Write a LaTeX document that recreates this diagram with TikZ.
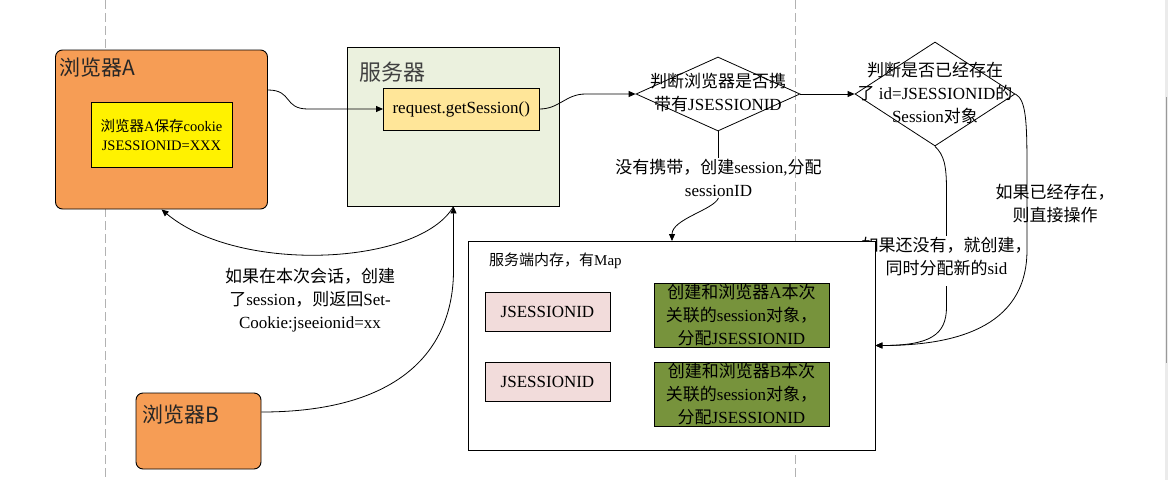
\documentclass[tikz,border=0pt]{standalone}
\usepackage{fontspec}
\setmainfont{Liberation Serif}
\newfontfamily\zhfont{Noto Sans CJK SC}
\newcommand{\zh}[1]{{\zhfont #1}}
\usepackage{tikz}
\usetikzlibrary{arrows.meta,shapes.geometric}
\definecolor{browserfill}{HTML}{F69D55}
\definecolor{serverfill}{HTML}{EBF1DE}
\definecolor{callfill}{HTML}{FFE699}
\definecolor{keyfill}{HTML}{F2DCDB}
\definecolor{objfill}{HTML}{77933C}
\definecolor{titlegray}{HTML}{404040}
\tikzset{%
  every box/.style={
    draw,
    line width=0.9pt,
    inner sep=0pt,
    align=center,
    font=\fontsize{17pt}{23pt}\selectfont
  },
  browser/.style={every box, fill=browserfill, rounded corners=7pt},
  cookie/.style={every box, fill=yellow, font=\fontsize{14.5pt}{19pt}\selectfont},
  server/.style={every box, fill=serverfill},
  call/.style={every box, fill=callfill},
  memory/.style={every box, fill=white},
  sessionkey/.style={every box, fill=keyfill},
  sessionobj/.style={every box, fill=objfill},
  decision/.style={diamond, draw, line width=0.8pt, inner sep=0pt},
  title/.style={inner sep=0pt, text=black!85, font=\zhfont\fontsize{21pt}{25pt}\selectfont},
  note/.style={inner sep=1pt, align=center, font=\fontsize{17pt}{23pt}\selectfont},
  guide/.style={draw=black!30, line width=0.8pt, dash pattern=on 9pt off 4pt},
  conn/.style={line width=0.8pt},
  arr/.style={conn, -{Triangle[length=7pt,width=6pt]}},
}
\begin{document}
\begin{tikzpicture}[x=1pt,y=-1pt]
  \useasboundingbox (0,0) rectangle (1168,480);
  \fill[white] (0,0) rectangle (1168,480);
  \draw[guide] (105,0) -- (105,480);
  \draw[guide] (795,0) -- (795,480);
  \fill[black!8] (1165,0) rectangle (1168,480);
  \draw[black!40, line width=0.8pt] (1166.5,97) -- (1166.5,363);

  \node[browser, minimum width=212pt, minimum height=159pt] (brA) at (161.5,129.5) {};
  \node[title, anchor=west] (brAtitle) at (59,68) {浏览器A};
  \node[cookie, minimum width=141pt, minimum height=65pt] (cookie) at (161.5,134.5)
    {\zh{浏览器}A\zh{保存}cookie\\JSESSIONID=XXX};

  \node[server, minimum width=212pt, minimum height=159pt] (srv) at (453.5,126.5) {};
  \node[title, text=titlegray, font=\zhfont\fontsize{22pt}{26pt}\selectfont, anchor=west] (srvtitle) at (359,72) {服务器};
  \node[call, minimum width=155.5pt, minimum height=42pt] (sess) at (461.25,109) {request.getSession()};

  \node[decision, minimum width=164pt, minimum height=74pt] (d1) at (718,94) {};
  \node[note] (d1text) at (718,92.5) {\zh{判断浏览器是否携}\\\zh{带有}JSESSIONID};
  \node[decision, minimum width=160pt, minimum height=104pt] (d2) at (935,94) {};
  \node[note] (d2text) at (935,93) {\zh{判断是否已经存在}\\\zh{了} id=JSESSIONID\zh{的}\\Session\zh{对象}};

  \node[note] (nocarry) at (718.5,178) {\zh{没有携带，创建}session,\zh{分配}\\sessionID};
  \node[note] (exists) at (1055,203.5) {\zh{如果已经存在，}\\\zh{则直接操作}};
  \node[note] (create) at (946.5,256.5) {\zh{如果还没有，就创建，}\\\zh{同时分配新的}sid};

  \node[memory, minimum width=407pt, minimum height=209pt] (mem) at (671.5,345.5) {};
  \node[note, inner sep=0pt, font=\fontsize{15pt}{20pt}\selectfont, anchor=west] (memtitle) at (489,261) {\zh{服务端内存，有}Map};
  \foreach \ky/\oy/\k in {311.5/315/A,381.5/394.5/B} {
    \node[sessionkey, minimum width=125pt, minimum height=39pt] (key\k) at (547.5,\ky) {JSESSIONID};
    \node[sessionobj, minimum width=175pt, minimum height=64pt] (obj\k) at (741.5,\oy)
      {\zh{创建和浏览器}\k\zh{本次}\\\zh{关联的}session\zh{对象，}\\\zh{分配}JSESSIONID};
  }
  \coordinate (memin) at (672,241);

  \node[note] (reply) at (310,300) {\zh{如果在本次会话，创建}\\\zh{了}session\zh{，则返回}Set-\\Cookie:jseeionid=xx};

  \node[browser, minimum width=125pt, minimum height=76pt] (brB) at (198.5,431) {};
  \node[title, anchor=west] (brBtitle) at (142,415) {浏览器B};

  \draw[arr] ([yshift=39.5pt]brA.east) .. controls +(25,0) and +(-25,0) .. ([xshift=-75pt]sess.west) -- (sess.west);
  \draw[arr] (sess.east) .. controls +(20,0) and +(-20,0) .. ([xshift=-50pt]d1.west) -- (d1.west);
  \draw[arr] (d1.east) -- (d2.west);
  \draw[conn] (d1.south) -- (d1.south |- nocarry.north);
  \draw[arr] (nocarry.south) .. controls +(-5,12) and +(0,-22) .. (memin);
  \draw[conn] (d2.south) .. controls (944,155) and (946.5,165) .. (946.5,190) -- (create.north);
  \draw[arr, shorten <=9pt] (create.south) -- (946.5,307) .. controls (946.5,335) and (930,345.5) .. (mem.east);
  \draw[arr] (d2.east) .. controls (1026,100) and (1027,120) .. (1027,170) -- (1027,250)
    .. controls (1027,330) and (950,345.5) .. (mem.east);
  \draw[arr] (srv.south) .. controls (420,265) and (240,275) .. (brA.south);
  \draw[arr] ([yshift=19pt]brB.east) .. controls (400,412) and (453.5,350) .. (453.5,270) -- (srv.south);
\end{tikzpicture}
\end{document}
